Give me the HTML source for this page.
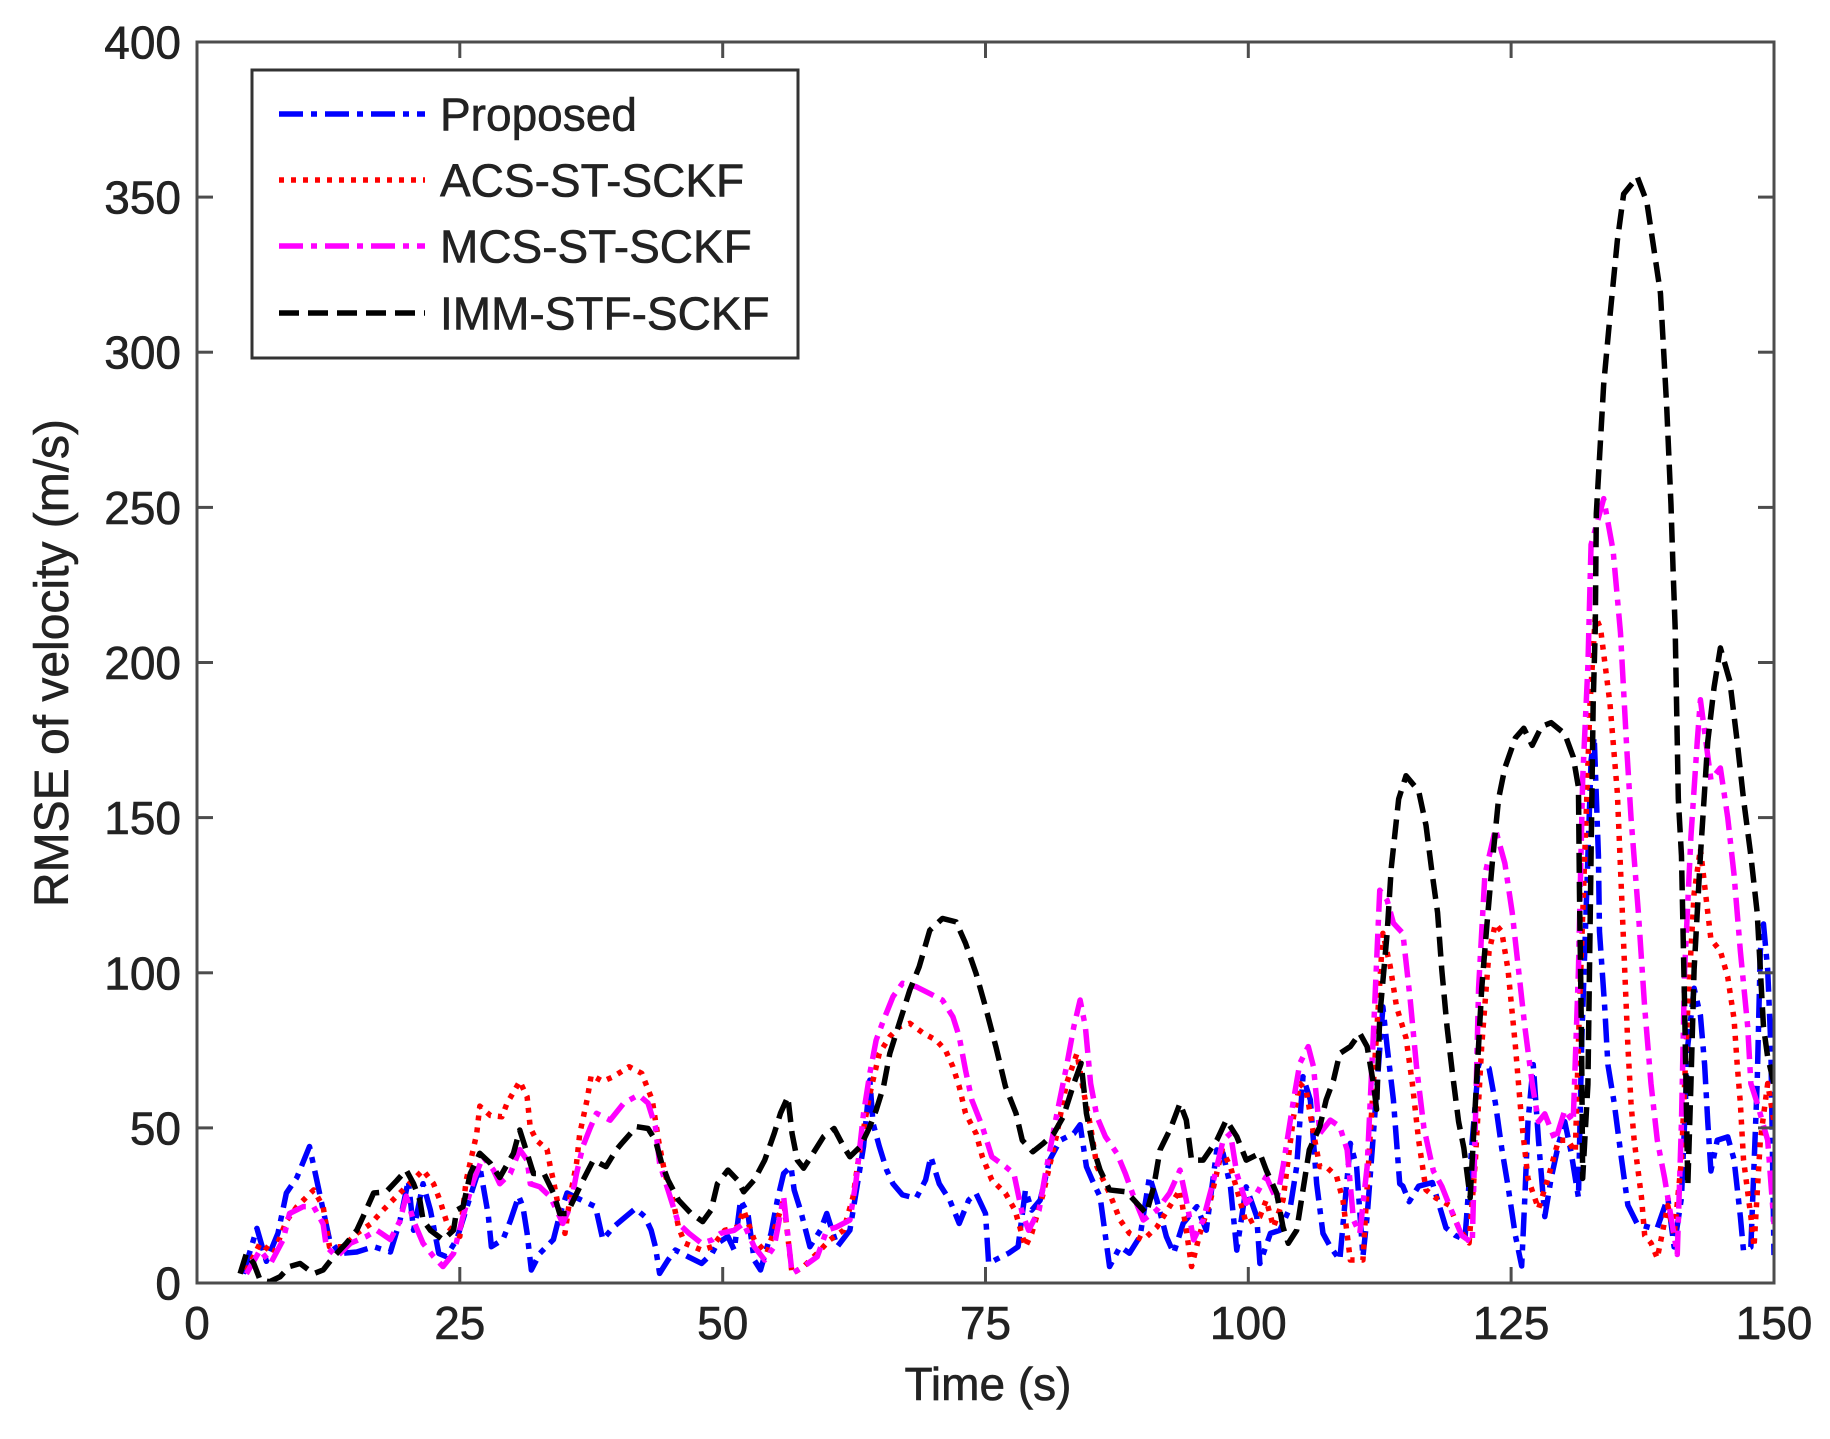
<!DOCTYPE html>
<html><head><meta charset="utf-8"><style>
html,body{margin:0;padding:0;background:#fff;}
svg{display:block;}
text{font-family:"Liberation Sans",Arial,sans-serif;fill:#222;stroke:#222;stroke-width:0.6;}
.dl{vector-effect:non-scaling-stroke;fill:none;stroke-width:5.5;stroke-linejoin:round;stroke-linecap:butt;}
</style></head><body>
<svg width="1830" height="1439" viewBox="0 0 1830 1439" xmlns="http://www.w3.org/2000/svg">
<rect x="0" y="0" width="1830" height="1439" fill="#fff"/>
<defs><clipPath id="pc"><rect x="197" y="42" width="1577" height="1241"/></clipPath></defs>

<g clip-path="url(#pc)">
<g transform="translate(197,1283) scale(10.5133,-3.1025)">
<polyline class="dl" stroke="#0000ff" stroke-dasharray="24 8 6 8" points="4.4,3 5.7,17.6 6.6,7 7.7,16 8.5,29 9.5,34 10.7,44 11.4,33 12,23.5 12.6,14 13.6,9.5 15.2,10 16.8,11.7 18.4,10 19.3,20 20.1,33 20.6,17 21.5,32 22.2,23.5 23,9.5 23.7,8.5 24.7,14 26,28 26.9,37.5 27.7,22 28,11.7 29.1,14 29.8,20 30.6,28 31,24.6 31.4,16 31.8,4.2 32.6,9.5 33.9,14 34.5,22 35.2,29 36.4,27 37.9,24.6 38.6,14 39.6,18 40.4,20.3 41.7,24 42.6,21.4 43.2,17 43.6,11.7 44,3.1 44.8,7.4 45.5,10.6 46.7,8.5 48,6.3 49,9.6 49.5,12.8 50.5,15 51.1,10.6 51.7,26.7 52.4,22.4 53,7.4 53.6,4.2 54.6,16 55.2,26.7 55.8,35.3 56.5,37.5 56.8,30 57.4,23.5 58.3,11.7 59.3,17 59.9,22.4 60.9,11.7 62.1,17 63.4,44 64,65.4 64.3,51.5 64.9,44 65.6,36.4 66.2,32 67.1,28.4 68.4,27.3 69.3,33.2 69.8,40.7 70.6,32 71.6,26.7 72.5,19.2 73.4,26.7 74.1,28.9 75,22.4 75.3,6.3 75.9,7.4 77.2,9.6 78.1,11.7 78.8,30 79.4,23.5 80.2,26.7 81.1,39.6 82.1,46 83.4,48.2 84,51 84.6,37.5 85.3,32 85.9,27.8 86.2,20.3 86.8,5.3 87.8,11.7 88.7,9.6 89.7,15 90.6,34.3 91.3,26.7 92.2,15 92.9,9.6 93.8,19.2 95.1,24.6 96,17 97,42.9 97.6,41.8 98.3,31 98.9,10.6 99.8,31 100.8,21.4 101.1,6.3 102.1,16 103,17 104,24.6 104.6,37.5 105.2,66.5 105.9,59 106.5,32 107.1,16 107.8,11.7 108.7,7.4 109.7,45 110.3,37.5 110.9,8.5 111.3,21.4 111.9,48.2 112.8,89 113.2,76.2 113.8,59 114.4,32 114.7,31.2 115.3,26.2 116.2,31.2 117.5,32.4 118.8,17.8 119.7,15.3 120.6,14 121.3,46 121.9,70.4 122.9,69.2 123.5,58 124.1,43.5 124.7,31.2 125.4,15.3 126,5.5 126.3,27.5 126.6,52 127.1,70.4 127.6,46 128.2,21.4 128.8,33.7 129.5,44.7 130.1,52 130.7,42.2 131.4,27.5 131.7,76.5 132.3,137.7 132.6,168.4 132.9,176 133.3,137.7 133.4,113.3 133.9,88.8 134.2,70.4 134.8,58 135.5,39.8 136.1,25.1 137,19 138.3,17.8 138.9,17.8 139.9,27.5 140.5,11.6 141.2,27.5 141.8,76.5 142.4,95 143,86.3 143.4,70.4 143.7,52 144,36.1 144.6,46 145.6,47.1 146.2,39.8 146.8,21.4 147.1,10.4 147.8,11.6 148.4,64.3 148.7,107 149,115.7 149.4,101 149.7,76.5 150,9"/>
<polyline class="dl" stroke="#ff0000" stroke-dasharray="5 7" points="4.7,4 6,12.8 7.3,9.5 8.5,20 9.5,24.6 11.1,30 12,24.6 12.6,11.7 13.9,11.7 15.2,16 16.5,19 17.7,23.5 19,28 19.9,31 21.5,36.4 22.5,32 23.1,26.7 23.9,18 25,15 25.6,33 26.6,48 26.9,57 27.9,54 29,53.6 29.5,58 30.7,65 31.4,60 31.7,50 32.3,46 33.3,43 33.6,37.5 33.9,33 34.5,22.4 35,16 35.5,28 36.1,38.6 36.4,48 37.1,59 37.5,67 38.6,65 39.6,66.5 41.1,69.7 42.3,67.6 43.3,59 43.9,46 44.5,35.3 45.2,27.8 45.8,18 46.4,12.8 48,10.6 49,11.7 50.2,17 51.4,18 52,23.5 53,13.9 54.2,9.6 55.2,20.3 55.8,26.7 56.6,3 57.7,5.3 59,9.6 60.2,13.9 61.5,17 62.4,27.8 63.1,44 64,61 64.9,74 65.9,79.4 66.8,82.6 67.8,83.7 69.1,80.5 70.3,78.3 71.2,75 71.9,69.7 72.5,63.3 73.1,54.7 74.1,48.2 74.7,40.7 75.6,33.2 76.9,28.9 77.8,23.5 78.8,11.7 79.4,16 80.5,28.9 81.8,48.2 82.7,64.3 83.7,74 84.3,62.2 85,50.4 85.6,37.5 86.8,28.9 87.8,20.3 88.7,16 90,13.9 91.3,18 92.5,24.6 93.5,30 94.1,17 94.6,5.3 95.4,16 96.4,26.7 97.5,42.9 98.3,37.5 99.2,26.7 99.8,19.2 101.1,21.4 101.7,26.7 102.4,18 103.3,26.7 104.3,53.6 104.9,64.3 105.5,62.2 106.2,48.2 106.8,37.5 107.4,37.5 108.4,34.3 109,26.7 109.7,7.4 110.9,7.4 111.6,48.2 112.2,80.5 112.8,112.7 113.5,102 114.1,89 115,79 115.6,64.3 116.2,46 116.9,30 117.8,27.5 119.1,25.1 120,17.8 121,12.9 121.6,39.8 122.2,76.5 122.9,107 123.5,115.7 124.1,113.3 124.7,101 125.4,76.5 126,52 126.6,33.7 127.6,23.9 128.5,33.7 129.5,46 130.4,46 131.1,42.2 131.5,88.8 132,137.7 132.5,186.7 133,215 133.5,211 134.4,186.7 135.1,158 135.5,125.5 135.8,101 136.1,76.5 136.4,58 136.7,46 137.4,27.5 137.7,15.3 138.3,12.9 138.9,8 139.9,25 140.5,15.3 141.2,39.8 141.8,88.8 142.4,125.5 143,140 143.7,119.4 144,110.8 144.9,107 145.6,98.6 146.2,85.1 146.5,70.4 146.8,58 147.1,39.8 147.8,21.4 148.1,11.6 148.7,46 149.4,64.3 150,52"/>
<polyline class="dl" stroke="#ff00ff" stroke-dasharray="24 8 6 8" points="4.7,3 6,10.6 7,6.3 8.2,14 8.8,22.4 10.1,24.6 11.1,24.6 12,19 12.3,11.7 13.3,8.5 14.6,12.8 16.1,15 17.1,17 18.4,14 19.3,20 19.9,28 20.6,20 21.5,12.8 22.5,8.5 23.4,5.3 24.4,9.5 25.3,21.4 26.3,33 27.2,40.7 28.2,36.4 28.8,32 29.8,35.3 30.7,43 31.4,39.6 31.7,32 32.6,31 33.6,27.8 34.2,23.5 34.8,19.2 35.5,24.6 36.1,35.3 36.7,44 37.4,50 38,54.7 39.3,52.5 40.6,58 42,60.6 42.9,58 43.6,50.4 44,38.6 44.8,30 45.8,19.2 46.8,16 48,12.8 49,13.9 49.8,16 51.1,17 52,19.2 53,11.7 54,7.4 54.9,11.7 55.8,27.8 56.6,3.1 57.7,5.3 59,8.5 59.9,17 60.8,18 62.1,20.3 62.7,33.2 63.4,54.7 64,67.6 64.6,78.3 65.3,84.7 66.2,92.3 67.1,96.6 68.4,95.5 69.7,93.3 70.9,91.2 71.9,85.8 72.5,79.4 73.1,68.6 73.7,59 74.7,50.4 75.6,40.7 76.9,37.5 77.7,35.3 78.5,22.4 79.1,17 80.1,23.5 80.7,35.3 81.8,54.7 82.7,69.7 83.4,82.6 84,91.2 84.5,82.6 85,64.3 85.6,53.6 86.4,47.2 87.5,41.8 88.3,35.3 89.1,27.8 90,20.3 91.3,23.5 92.5,28.9 93.5,36.4 94.1,26.7 94.8,13.9 95.7,20.3 96.7,33.2 97.6,46 98.3,48.2 98.9,35.3 99.8,25.7 100.8,28.9 101.7,34.3 102.7,26.7 103.3,37.5 104.3,59 104.9,70.8 105.7,76.2 106.2,69.7 106.8,48.2 107.8,52.5 108.7,50.4 109.4,42.9 110,20.3 110.6,16 111.3,37.5 111.9,80.5 112.5,126.6 113.2,123.4 113.8,116 114.7,112.7 115.4,91.2 116,69.7 116.7,50 117.6,36.1 118.4,31.2 119.4,22.7 120.3,15.3 121.3,12.9 121.6,52 121.9,95 122.5,131.6 123.5,146.3 124.4,135.3 125.1,119.4 125.7,101 126.3,82.6 127,64.3 127.6,52 128.2,54.5 129.2,45.9 130.1,55.7 130.9,52 131.4,101 131.8,162.2 132.3,199 132.6,238 133.8,252.8 134.7,236 135.4,209.5 136,172 136.4,150 137.1,119.4 137.7,88.8 138.3,64.3 138.9,46 139.6,33.7 140.2,21.4 140.8,9.2 141.2,52 141.5,101 142.1,143.9 142.7,174.5 143,188 144,162.2 144.9,166 145.6,150 146.2,131.6 146.8,107 147.5,82.6 147.8,64.3 148.4,58 149.4,46 150,19"/>
<polyline class="dl" stroke="#000000" stroke-dasharray="20 9" points="4.1,3 4.7,9.5 5.4,6.3 6,1 6.9,0.4 7.9,2 8.8,5.3 9.8,6.3 11.1,3 12,4.2 13,8.5 14.2,12.8 15.2,17 15.8,21.4 16.8,29 18,29.4 19,33 19.9,36.4 20.6,32 21.2,26.7 21.5,20.3 22.2,17 23.4,13.9 24.4,17 24.7,23.5 25.3,24.6 26,35.3 26.9,41.8 27.9,38.6 28.8,34 30.1,41.8 30.7,49.3 31.4,41.8 32,35.3 33,35.3 33.9,29 34.5,22.4 35.2,22.4 35.8,26.7 36.7,33 37.7,39.6 38.9,37.5 39.9,43 40.4,45 41.8,50.4 42.9,49.8 43.6,46 44.2,38.6 44.8,33.2 45.8,26.7 47,22.4 48.1,19.8 48.9,23.5 49.5,32 50.5,36.4 51.4,33.2 52,29.4 53,33.2 54,39.6 54.9,48.2 55.5,54.7 56.2,60 56.6,48.2 57.1,39.6 57.7,37 58.6,41.8 59.6,47.2 60.6,49.8 61.5,44 62.1,40.7 63.1,44 64,50.4 64.6,55.7 65.3,63.3 65.9,74 66.8,83.7 67.8,94.4 68.7,102 69.7,113.7 70.9,117.5 72.2,116.4 73.1,109.5 74.1,99.8 75,89 76,76 76.9,63.3 77.9,54.7 78.5,46 79.5,42.3 80.5,45 81.5,48.2 82.4,53.6 83.4,64.3 84.1,70.8 84.6,54.7 85.3,42.9 85.9,36.4 86.8,30 88.4,29.4 89.4,25.7 90.3,22.4 91,31 91.6,42.9 92.6,49.8 93.5,57.9 94.1,52.5 94.6,39.6 95.7,39.6 97,46 97.9,52.5 98.9,47.2 99.8,39.6 101.1,41.8 101.7,36.4 102.7,28.9 103.3,18 103.8,12.8 104.6,17 105.2,30 105.8,42.9 106.8,50.4 107.4,59 108.1,65.4 108.7,74 109.7,76.2 110.6,80.5 111.3,76.2 111.9,64.3 112.2,56 112.5,85.8 113.2,112.7 113.6,134 114.3,156 115,163.5 116.2,158.6 116.9,147.5 117.5,131.6 118,119.4 118.4,101 118.9,82.6 119.4,68 120,52 120.5,43.5 121.1,27.5 121.4,46 121.8,70.4 122.2,95 122.7,115.7 123.2,135.3 123.8,156 124.4,166 125.4,175.7 126.2,178.8 127,173.3 127.9,179.4 128.8,180.6 130.1,177 130.9,169.6 131.4,159.8 131.5,125.5 131.7,76.5 131.8,33.7 132.3,64 132.6,137.7 132.8,186.7 133,211 133.1,248 133.8,289.6 134.4,311.7 135.1,336 135.7,351 137,356.5 137.9,348.5 138.5,335 139.2,319 139.5,300.7 139.8,282 140.2,251 140.4,230 140.6,211 140.9,156 141.2,137.7 141.5,88.8 141.8,31.2 142.1,64.3 142.4,101 143,137.7 143.7,174.5 144.3,192 144.9,204.7 145.8,194 146.5,174.5 147.1,156 147.8,137.7 148.4,119.4 148.7,101 149,82.6 149.4,72.8 150,64.3"/>
</g>
</g>

<!-- axes box -->
<rect x="197" y="42" width="1577" height="1241" fill="none" stroke="#4d4d4d" stroke-width="3"/>
<g stroke="#4d4d4d" stroke-width="3">
<line x1="197" y1="1127.9" x2="213" y2="1127.9"/><line x1="1774" y1="1127.9" x2="1758" y2="1127.9"/>
<line x1="197" y1="972.8" x2="213" y2="972.8"/><line x1="1774" y1="972.8" x2="1758" y2="972.8"/>
<line x1="197" y1="817.6" x2="213" y2="817.6"/><line x1="1774" y1="817.6" x2="1758" y2="817.6"/>
<line x1="197" y1="662.5" x2="213" y2="662.5"/><line x1="1774" y1="662.5" x2="1758" y2="662.5"/>
<line x1="197" y1="507.4" x2="213" y2="507.4"/><line x1="1774" y1="507.4" x2="1758" y2="507.4"/>
<line x1="197" y1="352.2" x2="213" y2="352.2"/><line x1="1774" y1="352.2" x2="1758" y2="352.2"/>
<line x1="197" y1="197.1" x2="213" y2="197.1"/><line x1="1774" y1="197.1" x2="1758" y2="197.1"/>
<line x1="459.8" y1="1283" x2="459.8" y2="1267"/><line x1="459.8" y1="42" x2="459.8" y2="58"/>
<line x1="722.7" y1="1283" x2="722.7" y2="1267"/><line x1="722.7" y1="42" x2="722.7" y2="58"/>
<line x1="985.5" y1="1283" x2="985.5" y2="1267"/><line x1="985.5" y1="42" x2="985.5" y2="58"/>
<line x1="1248.3" y1="1283" x2="1248.3" y2="1267"/><line x1="1248.3" y1="42" x2="1248.3" y2="58"/>
<line x1="1511.1" y1="1283" x2="1511.1" y2="1267"/><line x1="1511.1" y1="42" x2="1511.1" y2="58"/>
</g>

<!-- y tick labels -->
<g font-size="46" text-anchor="end">
<text x="181" y="1299.5">0</text>
<text x="181" y="1144.4">50</text>
<text x="181" y="989.3">100</text>
<text x="181" y="834.1">150</text>
<text x="181" y="679">200</text>
<text x="181" y="523.9">250</text>
<text x="181" y="368.7">300</text>
<text x="181" y="213.6">350</text>
<text x="181" y="58.5">400</text>
</g>
<!-- x tick labels -->
<g font-size="46" text-anchor="middle">
<text x="197" y="1339">0</text>
<text x="459.8" y="1339">25</text>
<text x="722.7" y="1339">50</text>
<text x="985.5" y="1339">75</text>
<text x="1248.3" y="1339">100</text>
<text x="1511.1" y="1339">125</text>
<text x="1774" y="1339">150</text>
</g>
<text x="988" y="1400" font-size="46" text-anchor="middle">Time (s)</text>
<text transform="translate(68,663) rotate(-90)" font-size="48" text-anchor="middle">RMSE of velocity (m/s)</text>

<!-- legend -->
<rect x="252" y="70" width="546" height="288" fill="#fff" stroke="#333" stroke-width="3"/>
<g fill="none" stroke-width="5.5">
<line x1="279" y1="114" x2="425" y2="114" stroke="#0000ff" stroke-dasharray="24 8 6 8"/>
<line x1="279" y1="180" x2="425" y2="180" stroke="#ff0000" stroke-dasharray="5 7"/>
<line x1="279" y1="246" x2="425" y2="246" stroke="#ff00ff" stroke-dasharray="24 8 6 8"/>
<line x1="279" y1="313" x2="425" y2="313" stroke="#000000" stroke-dasharray="20 9"/>
</g>
<g font-size="46">
<text x="440" y="130.5">Proposed</text>
<text x="440" y="196.5">ACS-ST-SCKF</text>
<text x="440" y="262.5">MCS-ST-SCKF</text>
<text x="440" y="329.5">IMM-STF-SCKF</text>
</g>
</svg>
</body></html>
